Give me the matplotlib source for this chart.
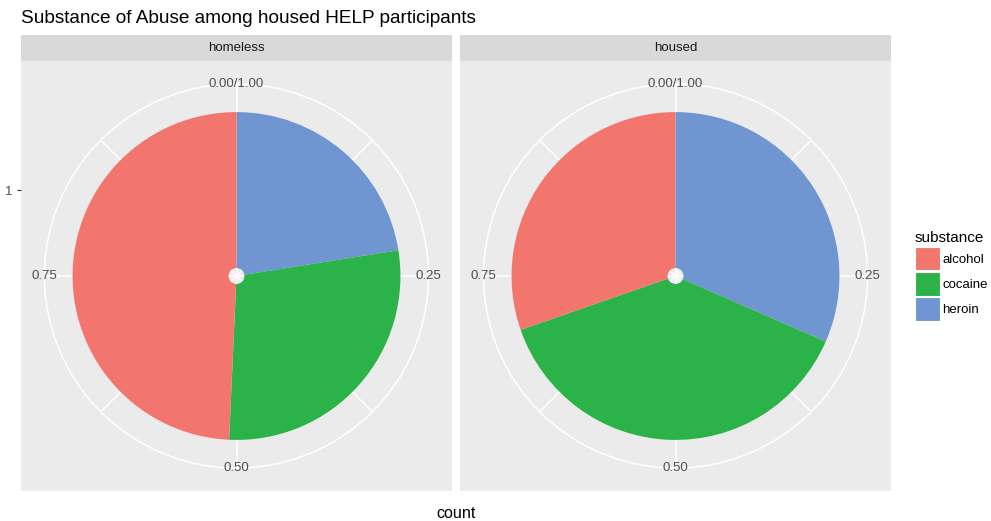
import numpy as np
import matplotlib as mlt
mlt.use('Agg')
import matplotlib.pyplot as plt
from matplotlib.patches import Patch
from matplotlib import rcParams

rcParams['font.family'] = ['Liberation Sans', 'DejaVu Sans']

# data (counts of substance by housing status)
substances = ['alcohol', 'cocaine', 'heroin']
facets = ['homeless', 'housed']
homeless_counts = [103, 59, 47]
housed_counts = [74, 93, 77]
thetaLabels = ['0.00/1.00', '0.25', '0.50', '0.75']
thetaBreaks = [0.0, 0.25, 0.5, 0.75]

colorAlcohol = '#F2766D'
colorCocaine = '#2BB34A'
colorHeroin = '#6F96D0'
fillColors = [colorAlcohol, colorCocaine, colorHeroin]

panelGray = '#EBEBEB'
stripGray = '#D9D9D9'
tickGray = '#4D4D4D'
smallSize = 9.5

W, H = 991, 521
fig = plt.figure(figsize=(W / 100, H / 100), dpi=100)


def rect(x0, y0, x1, y1):
    # pixel box (top-left origin) -> figure fraction
    return [x0 / W, 1 - y1 / H, (x1 - x0) / W, (y1 - y0) / H]


# radial scale: bar spans x = 0.5 .. 1.5 (one discrete level)
rOrigin = 0.449
rOuter = 1.68
outerPx = 192.0
pxPerUnit = outerPx / (rOuter - rOrigin)

panels = [(21, 452), (460, 891)]
panelTop, panelBottom = 61, 491
stripTop = 35
allCounts = [homeless_counts, housed_counts]

for i, (facet, counts) in enumerate(zip(facets, allCounts)):
    x0, x1 = panels[i]
    cx = (x0 + x1) / 2.0
    cy = (panelTop + panelBottom) / 2.0

    # gray panel background
    bg = fig.add_axes(rect(x0, panelTop, x1, panelBottom))
    bg.set_facecolor(panelGray)
    half = (panelBottom - panelTop) / 2.0
    bg.set_xlim(-1, 1)
    bg.set_ylim(-half, half)
    bg.set_xticks([])
    for s in bg.spines.values():
        s.set_visible(False)
    if i == 0:
        bg.set_yticks([pxPerUnit * (1 - rOrigin)])
        bg.set_yticklabels(['1'])
        bg.tick_params(axis='y', length=3, width=0.8, color='#333333',
                       labelcolor=tickGray, labelsize=smallSize, pad=3)
    else:
        bg.set_yticks([])

    # strip
    st = fig.add_axes(rect(x0, stripTop, x1, panelTop))
    st.set_facecolor(stripGray)
    st.set_xticks([])
    st.set_yticks([])
    for s in st.spines.values():
        s.set_visible(False)
    st.text(0.5, 0.5, facet, ha='center', va='center', fontsize=smallSize,
            color='#1A1A1A', transform=st.transAxes)

    # polar pie
    ax = fig.add_axes(rect(cx - outerPx, cy - outerPx, cx + outerPx, cy + outerPx),
                      projection='polar')
    ax.patch.set_alpha(0)
    ax.set_theta_zero_location('N')
    ax.set_theta_direction(-1)
    ax.set_ylim(rOrigin, rOuter)
    ax.set_axisbelow(True)

    total = float(sum(counts))
    # stacking: last level starts at 0
    start = 0.0
    for sub, cnt, col in reversed(list(zip(substances, counts, fillColors))):
        frac = cnt / total
        ax.bar(2 * np.pi * start, 1.0, width=2 * np.pi * frac, bottom=0.5,
               align='edge', color=col, linewidth=0)
        start += frac

    ax.set_xticks(2 * np.pi * np.array(thetaBreaks))
    ax.set_xticks(2 * np.pi * (np.array(thetaBreaks) + 0.125), minor=True)
    ax.set_xticklabels([])
    ax.set_yticks([1.0])
    ax.set_yticklabels([])
    ax.tick_params(axis='both', which='both', length=0)
    ax.grid(True, which='major', color='white', linewidth=1.1)
    ax.grid(True, which='minor', axis='x', color='white', linewidth=1.1)
    ax.spines['polar'].set_color('white')
    ax.spines['polar'].set_linewidth(1.1)

    for b, lab in zip(thetaBreaks, thetaLabels):
        ax.text(2 * np.pi * b, rOuter, lab, ha='center', va='center',
                fontsize=smallSize, color=tickGray, clip_on=False)

fig.text(21 / W, 1 - 22.7 / H, 'Substance of Abuse among housed HELP participants',
         ha='left', va='baseline', fontsize=13.7, color='black')
fig.text(456 / W, 1 - 518 / H, 'count', ha='center', va='baseline',
         fontsize=11.6, color='black')

handles = [Patch(facecolor=c, edgecolor='white', linewidth=0.8) for c in fillColors]
fig.legend(handles, substances, title='substance', loc='upper left',
           bbox_to_anchor=(915 / W, 1 - 231 / H), frameon=False, fontsize=smallSize,
           title_fontsize=11, handlelength=1.9, handleheight=2.4,
           labelspacing=0.12, handletextpad=0.15, borderpad=0, borderaxespad=0,
           alignment='left')

plt.savefig('out.png', dpi=100)
